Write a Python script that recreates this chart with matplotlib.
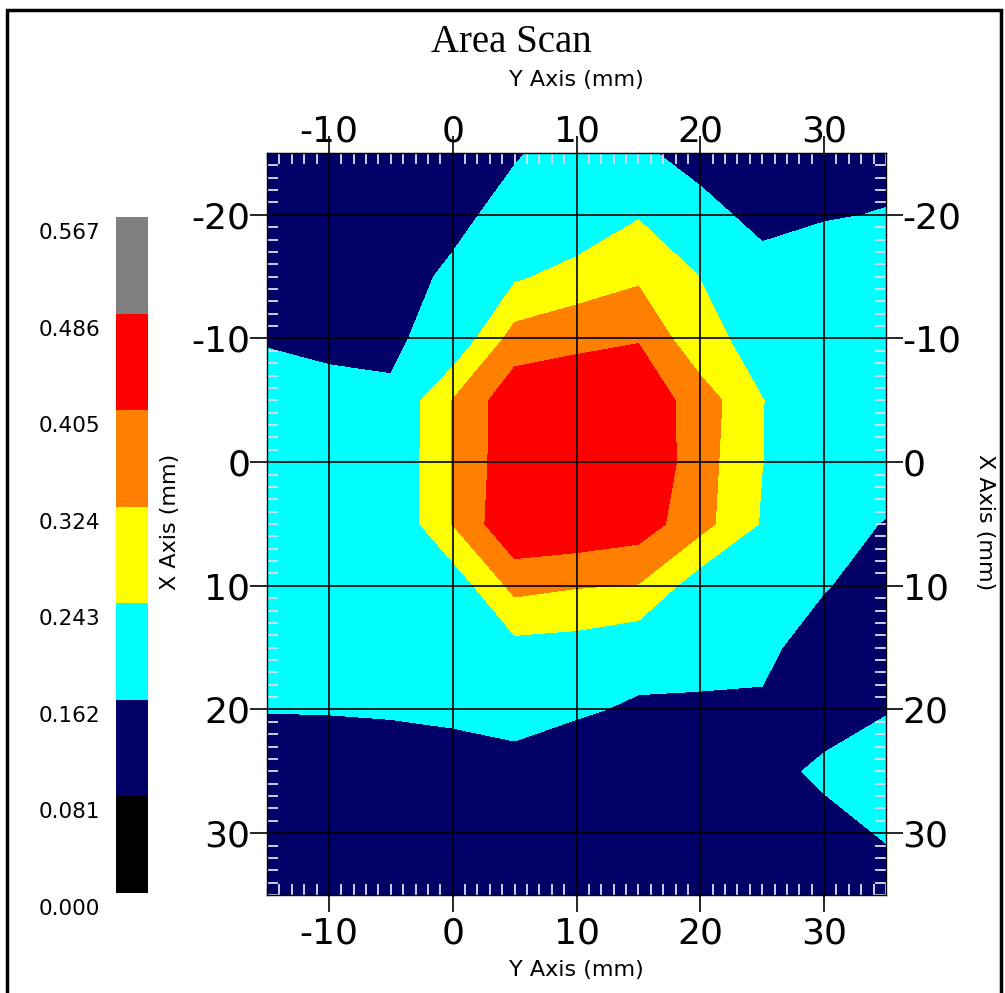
import matplotlib
matplotlib.use("Agg")
import matplotlib.pyplot as plt
import matplotlib.transforms as mtransforms
from matplotlib.patches import Rectangle
from matplotlib.ticker import MultipleLocator, NullLocator
import numpy as np

# scan grid (mm): horizontal = "Y Axis", vertical = "X Axis"
y_axis_mm = [-15, -10, -5, 0, 5, 10, 15, 20, 25, 30, 35]
x_axis_mm = [-25, -20, -15, -10, -5, 0, 5, 10, 15, 20, 25, 30, 35]

# measured values, one row per X position (top to bottom)
scan_values = [
    [0.120, 0.120, 0.120, 0.130, 0.150, 0.220, 0.175, 0.132, 0.120, 0.120, 0.140],
    [0.130, 0.120, 0.120, 0.127, 0.210, 0.176, 0.237, 0.188, 0.138, 0.157, 0.165],
    [0.140, 0.130, 0.110, 0.185, 0.230, 0.275, 0.310, 0.242, 0.193, 0.200, 0.190],
    [0.155, 0.145, 0.158, 0.172, 0.357, 0.382, 0.400, 0.260, 0.223, 0.210, 0.200],
    [0.200, 0.185, 0.165, 0.326, 0.461, 0.470, 0.460, 0.367, 0.244, 0.210, 0.200],
    [0.190, 0.190, 0.170, 0.326, 0.465, 0.480, 0.480, 0.358, 0.244, 0.200, 0.200],
    [0.190, 0.190, 0.170, 0.326, 0.478, 0.470, 0.446, 0.352, 0.236, 0.190, 0.158],
    [0.190, 0.190, 0.180, 0.190, 0.3475, 0.329, 0.320, 0.196, 0.200, 0.170, 0.103],
    [0.190, 0.190, 0.180, 0.200, 0.217, 0.210, 0.1825, 0.195, 0.190, 0.1025, 0.100],
    [0.164, 0.165, 0.170, 0.180, 0.190, 0.168, 0.1555, 0.148, 0.145, 0.120, 0.155],
    [0.130, 0.130, 0.120, 0.120, 0.135, 0.130, 0.130, 0.120, 0.130, 0.180, 0.220],
    [0.120, 0.120, 0.120, 0.120, 0.120, 0.120, 0.120, 0.120, 0.120, 0.130, 0.170],
    [0.110, 0.110, 0.110, 0.110, 0.110, 0.110, 0.110, 0.110, 0.110, 0.110, 0.120],
]

levels = [0.000, 0.081, 0.162, 0.243, 0.324, 0.405, 0.486, 0.567]
band_colors = ["#000000", "#000066", "#00ffff", "#ffff00", "#ff8000", "#ff0000", "#808080"]

plt.rcParams["axes.unicode_minus"] = False
plt.rcParams["font.family"] = ["DejaVu Sans"]

W, H = 1005, 993
fig = plt.figure(figsize=(W / 100, H / 100), dpi=100)

# plot area
ax = fig.add_axes([267 / W, 1 - 895 / H, (886 - 267) / W, (895 - 153) / H])
cf = ax.contourf(y_axis_mm, x_axis_mm, np.array(scan_values), levels=levels,
                 colors=band_colors, antialiased=False)
ax.set_xlim(-15, 35)
ax.set_ylim(35, -25)

minor_col = "#dcdcf4"
for a in (ax.xaxis, ax.yaxis):
    a.set_major_locator(MultipleLocator(10))
    a.set_minor_locator(MultipleLocator(1))
ax.tick_params(which="major", direction="out", length=12, width=1.2, color="black",
               labelsize=26)
ax.tick_params(which="minor", direction="in", length=8, width=1.3, color=minor_col)
ax.tick_params(axis="x", which="major", top=False, labeltop=False, bottom=True, pad=3.5)
ax.tick_params(axis="x", which="minor", top=True, bottom=True)
ax.tick_params(axis="y", which="both", left=True, right=True, labelleft=True, labelright=True)
ax.tick_params(axis="y", which="major", pad=0)
ax.grid(True, which="major", color="black", linewidth=1.2)
for s in ax.spines.values():
    s.set_color("black")
    s.set_linewidth(1)

# top ticks sit right on the axis, with the tick running through the label
top = ax.secondary_xaxis("top")
top.xaxis.set_major_locator(MultipleLocator(10))
top.xaxis.set_minor_locator(NullLocator())
top.tick_params(which="major", direction="out", length=12, width=1.2, color="black",
                labelsize=26, pad=-8.5)

# colour key
cax = fig.add_axes([116 / W, 1 - 893 / H, 32 / W, (893 - 217) / H])
cb = fig.colorbar(cf, cax=cax)
cb.set_ticks([])
cb.outline.set_visible(False)
shift = mtransforms.ScaledTranslation(0, -0.16, fig.dpi_scale_trans)
for lv in levels:
    cax.text(-0.5, lv, f"{lv:.3f}", transform=cax.get_yaxis_transform() + shift,
             ha="right", va="center", fontsize=15.5)

# titles and axis names
fig.text(511 / W, 1 - 42 / H, "Area Scan", family="Liberation Serif", fontsize=28,
         ha="center", va="center")
fig.text(576 / W, 1 - 80 / H, "Y Axis (mm)", fontsize=16, ha="center", va="center")
fig.text(576 / W, 1 - 970 / H, "Y Axis (mm)", fontsize=16, ha="center", va="center")
fig.text(170 / W, 1 - 522 / H, "X Axis (mm)", fontsize=16, rotation=90,
         ha="center", va="center")
fig.text(985 / W, 1 - 522 / H, "X Axis (mm)", fontsize=16, rotation=270,
         ha="center", va="center")

# outer frame
fig.patches.append(Rectangle((7 / W, -0.02), (1001 - 7) / W, 1.02 - 10 / H,
                             transform=fig.transFigure, fill=False,
                             edgecolor="black", linewidth=2.5))

fig.savefig("out.png", dpi=100)
